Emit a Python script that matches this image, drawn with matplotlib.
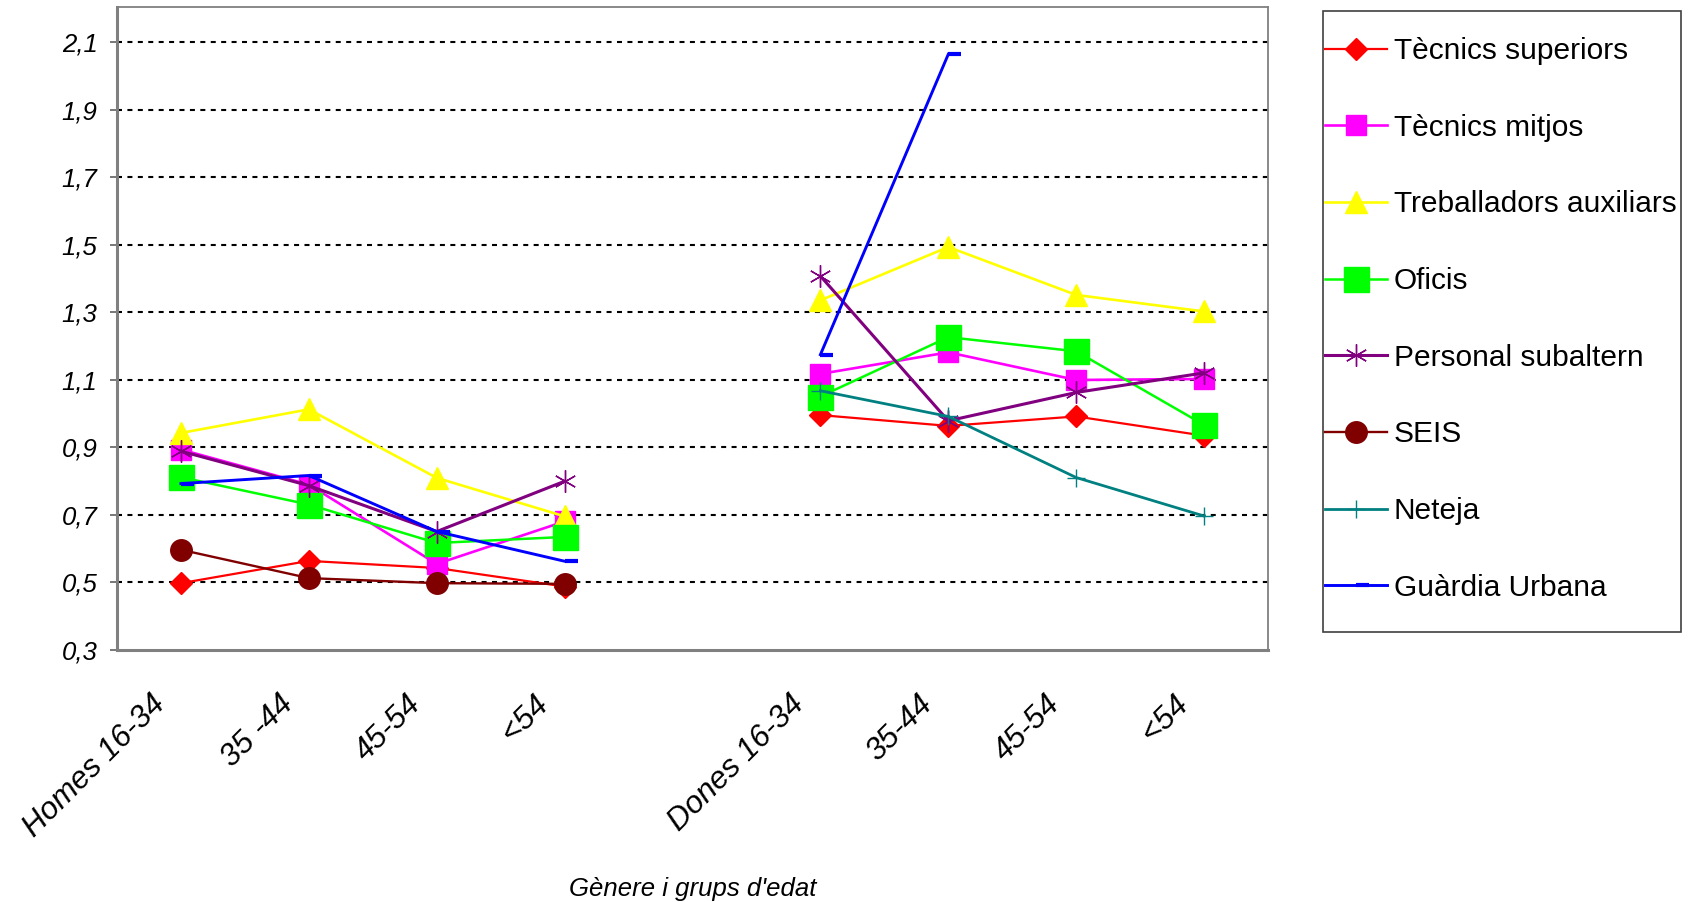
import matplotlib

matplotlib.use("Agg")
import matplotlib.pyplot as plt
import matplotlib.patches as mpatches
import matplotlib.transforms as mtransforms
import numpy as np

plt.rcParams["font.family"] = ["Liberation Sans", "DejaVu Sans"]

nan = np.nan
categories = ["Homes 16-34", "35 -44", "45-54", "<54", "",
              "Dones 16-34", "35-44", "45-54", "<54"]

tecnics_superiors = [0.498, 0.564, 0.543, 0.488, nan, 0.996, 0.964, 0.992, 0.935]
tecnics_mitjos = [0.894, 0.790, 0.555, 0.681, nan, 1.118, 1.182, 1.100, 1.103]
treballadors_auxiliars = [0.943, 1.013, 0.810, 0.696, nan, 1.336, 1.494, 1.352, 1.303]
oficis = [0.812, 0.731, 0.617, 0.635, nan, 1.051, 1.227, 1.185, 0.967]
personal_subaltern = [0.889, 0.787, 0.651, 0.800, nan, 1.408, 0.979, 1.063, 1.121]
seis = [0.597, 0.513, 0.498, 0.496, nan, nan, nan, nan, nan]
neteja = [nan, nan, nan, nan, nan, 1.068, 0.992, 0.811, 0.697]
guardia_urbana = [0.793, 0.817, 0.651, 0.563, nan, 1.175, 2.065, nan, nan]

yticks = [0.3, 0.5, 0.7, 0.9, 1.1, 1.3, 1.5, 1.7, 1.9, 2.1]

# dash marker that sticks out to the right of the point (Excel style)
dash_right = [(0, 0), (1, 0)]

series = [
    ("Tècnics superiors", tecnics_superiors, dict(color="#FF0000", marker="D", ms=11, lw=1.6)),
    ("Tècnics mitjos", tecnics_mitjos, dict(color="#FF00FF", marker="s", ms=15, lw=1.9)),
    ("Treballadors auxiliars", treballadors_auxiliars, dict(color="#FFFF00", marker="^", ms=16, lw=1.9)),
    ("Oficis", oficis, dict(color="#00FF00", marker="s", ms=18, lw=1.8)),
    ("Personal subaltern", personal_subaltern,
     dict(color="#800080", marker=(6, 2, 0), ms=16, lw=2.2, mew=1.0)),
    ("SEIS", seis, dict(color="#800000", marker="o", ms=15.5, lw=1.7)),
    ("Neteja", neteja, dict(color="#008080", marker="+", ms=13, lw=2.0, mew=1.0)),
    ("Guàrdia Urbana", guardia_urbana,
     dict(color="#0000FF", marker=dash_right, ms=19, lw=2.1, mew=3.0)),
]

fig = plt.figure(figsize=(16.91, 9.02), dpi=100)
ax = fig.add_axes([117 / 1691, 1 - 650 / 902, (1268 - 117) / 1691, (650 - 6.7) / 902])

x = np.arange(len(categories))
handles = []
for label, values, style in series:
    (h,) = ax.plot(x, values, label=label, linestyle="-", **style)
    handles.append(h)

ax.set_xlim(-0.5, len(categories) - 0.5)
ax.set_ylim(0.3, 2.206)
ax.set_yticks(yticks)
ax.set_yticklabels([f"{v:.1f}".replace(".", ",") for v in yticks],
                   fontsize=18.5, fontstyle="italic")
ax.yaxis.grid(True, color="black", linestyle=(0, (2.4, 2.6)), linewidth=1.5)
ax.yaxis.get_gridlines()[0].set_visible(False)
ax.set_axisbelow(True)
ax.tick_params(axis="y", length=5, width=1.2, color="#606060", pad=9)

ax.set_xticks(x)
ax.set_xticklabels(categories, rotation=45, ha="right", va="top",
                   rotation_mode="anchor", fontsize=22.5, fontstyle="italic")
ax.tick_params(axis="x", length=0, pad=28)
shift = mtransforms.ScaledTranslation(-0.31, 0, fig.dpi_scale_trans)
for lab in ax.get_xticklabels():
    lab.set_transform(lab.get_transform() + shift)

ax.set_xlabel("Gènere i grups d'edat", fontsize=18.5, fontstyle="italic")
ax.xaxis.set_label_coords(0.5, -(889 - 650) / 643.3)
ax.xaxis.label.set_va("center")

for side in ("left", "bottom"):
    ax.spines[side].set_color("#808080")
    ax.spines[side].set_linewidth(2.2)
for side in ("top", "right"):
    ax.spines[side].set_color("#808080")
    ax.spines[side].set_linewidth(1.3)

leg = fig.legend(handles=handles, loc="upper left",
                 bbox_to_anchor=(1325 / 1691, 1 - 37 / 902),
                 bbox_transform=fig.transFigure, frameon=False,
                 fontsize=21.5, numpoints=1, borderpad=0, borderaxespad=0,
                 handlelength=2.07, handletextpad=0.23, labelspacing=1.63)

fig.patches.append(mpatches.Rectangle(
    (1323 / 1691, 1 - 632 / 902), (1681 - 1323) / 1691, (632 - 11) / 902,
    transform=fig.transFigure, fill=False, edgecolor="#404040", linewidth=1.2))

fig.savefig("out.png", dpi=100)
